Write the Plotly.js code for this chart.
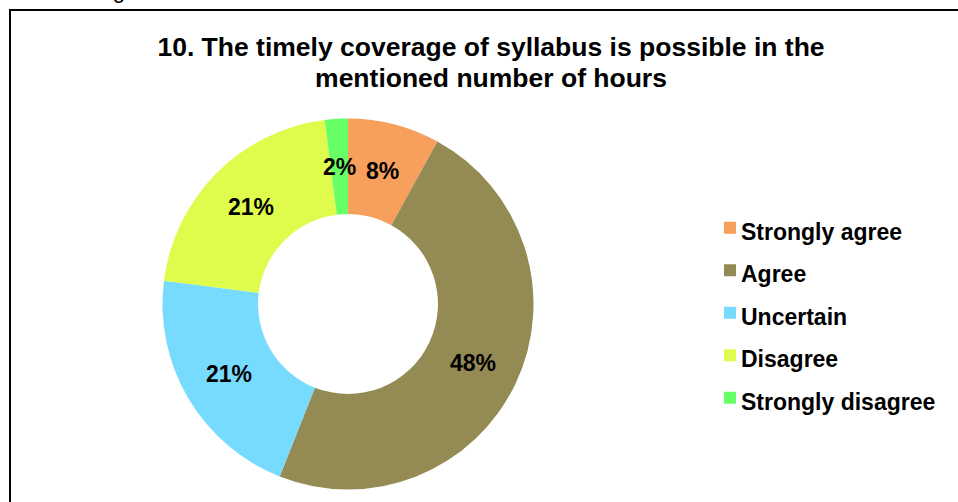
<!DOCTYPE html>
<html><head><meta charset="utf-8">
<script src="https://cdn.plot.ly/plotly-3.0.1.min.js"></script>
<style>html,body{margin:0;padding:0;background:#fff;overflow:hidden}#chart{width:958px;height:502px}</style>
</head><body><div id="chart"></div>
<script>
// ---- data ----
const categories = ["Strongly agree", "Agree", "Uncertain", "Disagree", "Strongly disagree"];
const shares = [8, 48, 21, 21, 2];
const colors = ["#F79F5C", "#948A54", "#77DBFF", "#DFFC4C", "#66FF66"];
const titleLines = ["10. The timely coverage of syllabus is possible in the", "mentioned number of hours"];
const topFragment = "ors disagree.";

// ---- layout helpers ----
const W = 958, H = 502;
const FONT = "Liberation Sans, Arial, sans-serif";
const cx = 348, cy = 304, R = 185.5, HOLE = 0.485;
const px = v => v / W;
const py = v => 1 - v / H;

const trace = {
  type: 'pie',
  labels: categories.map(c => `<span style="font-size:23px">${c}</span>`),
  values: shares,
  sort: false,
  direction: 'clockwise',
  rotation: 0,
  hole: HOLE,
  marker: {colors: colors, line: {width: 0}},
  textinfo: 'none',
  domain: {x: [px(cx - R), px(cx + R)], y: [py(cy + R), py(cy - R)]},
  hoverinfo: 'label+percent'
};

// percentage labels at the middle of each ring segment (derived from the shares)
const total = shares.reduce((a, b) => a + b, 0);
const rMid = R * (1 + HOLE) / 2;
let cum = 0;
const labelAnns = shares.map(v => {
  const a = (cum + v / 2) / total * 2 * Math.PI;
  cum += v;
  return {
    text: Math.round(v / total * 100) + '%',
    xref: 'paper', yref: 'paper',
    x: px(cx + rMid * Math.sin(a)), y: py(cy - rMid * Math.cos(a)),
    xanchor: 'center', yanchor: 'middle', showarrow: false,
    font: {family: FONT, size: 23, color: '#000', weight: 'bold'}
  };
});

const layout = {
  width: W, height: H,
  margin: {l: 0, r: 0, t: 0, b: 0},
  paper_bgcolor: '#fff',
  showlegend: true,
  title: {
    text: titleLines.map(t => `<span style="font-size:26.5px">${t}</span>`).join('<br>'),
    font: {family: FONT, size: 23.5, color: '#000', weight: 'bold'},
    x: px(491), xanchor: 'center', xref: 'paper',
    y: py(56), yanchor: 'top', yref: 'container'
  },
  legend: {
    x: px(701), xanchor: 'left',
    y: py(313), yanchor: 'middle',
    font: {family: FONT, size: 30.4, color: '#000', weight: 'bold'},
    bgcolor: 'rgba(0,0,0,0)', borderwidth: 0
  },
  shapes: [{
    type: 'rect', xref: 'paper', yref: 'paper',
    x0: px(10), x1: 1.02, y0: -0.02, y1: py(10),
    line: {color: '#000', width: 2}, fillcolor: 'rgba(0,0,0,0)', layer: 'above'
  }],
  annotations: [{
    text: topFragment, xref: 'paper', yref: 'paper',
    x: px(30), xanchor: 'left', y: 1, yanchor: 'bottom', yshift: -5,
    showarrow: false, font: {family: FONT, size: 23, color: '#000'}
  }].concat(labelAnns)
};

Plotly.newPlot('chart', [trace], layout, {displayModeBar: false, staticPlot: true}).then(gd => {
  // bring the legend swatches closer to their labels, as in the reference
  gd.querySelectorAll('.legend .legendsymbols').forEach(g => {
    const t = g.getAttribute('transform') || '';
    g.setAttribute('transform', 'translate(9,0) ' + t);
  });
});
</script></body></html>
